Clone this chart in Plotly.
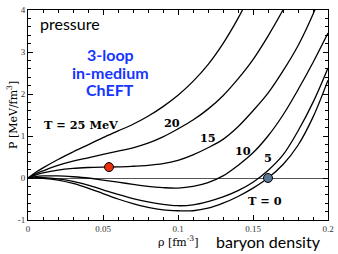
import plotly.graph_objects as go

rho = [0, 0.005, 0.01, 0.02, 0.03, 0.04, 0.05, 0.06, 0.07, 0.08, 0.09, 0.10,
       0.11, 0.12, 0.13, 0.14, 0.15, 0.16, 0.17, 0.18, 0.19, 0.20]

p_T25 = [0, 0.13, 0.24, 0.44, 0.62, 0.79, 0.96, 1.12, 1.28, 1.47, 1.70, 1.97,
         2.30, 2.70, 3.20, 3.80, 4.50, None, None, None, None, None]
p_T20 = [0, 0.10, 0.17, 0.30, 0.40, 0.48, 0.56, 0.64, 0.72, 0.83, 0.98, 1.17,
         1.38, 1.64, 1.96, 2.36, 2.82, 3.38, 4.00, 4.70, None, None]
p_T15 = [0, 0.07, 0.12, 0.19, 0.23, 0.25, 0.26, 0.265, 0.28, 0.30, 0.34, 0.42,
         0.55, 0.72, 0.92, 1.22, 1.60, 2.02, 2.55, 3.15, 3.90, 4.80]
p_T10 = [0, 0.035, 0.05, 0.05, 0.03, 0.0, -0.05, -0.10, -0.15, -0.20, -0.23, -0.24,
         -0.20, -0.11, 0.05, 0.30, 0.60, 1.00, 1.50, 2.10, 2.75, 3.45]
p_T5 = [0, 0.01, 0.01, -0.02, -0.08, -0.17, -0.28, -0.39, -0.49, -0.57, -0.63, -0.66,
        -0.64, -0.56, -0.45, -0.30, -0.10, 0.18, 0.55, 1.12, 1.80, 2.62]
p_T0 = [0, -0.003, -0.01, -0.05, -0.13, -0.24, -0.37, -0.50, -0.61, -0.70, -0.76, -0.78,
        -0.78, -0.72, -0.60, -0.44, -0.24, 0.0, 0.32, 0.78, 1.45, 2.33]

curves = [p_T25, p_T20, p_T15, p_T10, p_T5, p_T0]
curve_labels = ["T = 25 MeV", "20", "15", "10", "5", "T = 0"]
label_x = [0.0353, 0.096, 0.120, 0.1433, 0.160, 0.158]
label_y = [1.26, 1.31, 0.95, 0.64, 0.48, -0.55]

crit_rho, crit_p = [0.054], [0.26]
sat_rho, sat_p = [0.16], [0.0]

x_ticks = [0, 0.05, 0.1, 0.15, 0.2]
x_ticklabels = ["0", "0.05", "0.1", "0.15", "0.2"]
y_ticks = [-1, 0, 1, 2, 3, 4]
y_ticklabels = ["-1", "0", "1", "2", "3", "4"]

fig = go.Figure()
for p in curves:
    fig.add_trace(go.Scatter(x=rho, y=p, mode="lines",
                             line=dict(color="black", width=1.3, shape="spline", smoothing=1.0),
                             connectgaps=False, showlegend=False, hoverinfo="skip"))

fig.add_trace(go.Scatter(x=crit_rho, y=crit_p, mode="markers",
                         marker=dict(size=9, color="#e8300c", line=dict(color="black", width=1)),
                         showlegend=False))
fig.add_trace(go.Scatter(x=sat_rho, y=sat_p, mode="markers",
                         marker=dict(size=9, color="#5b7596", line=dict(color="black", width=1)),
                         showlegend=False))

serif = "DejaVu Serif"
sans = "Lato"
for t, lx, ly in zip(curve_labels, label_x, label_y):
    fig.add_annotation(x=lx, y=ly, text="<b>" + t + "</b>", showarrow=False,
                       xanchor="center", yanchor="middle",
                       font=dict(family=serif, size=11.3, color="black"))

fig.add_annotation(x=0.0067, y=3.69, text="pressure", xanchor="left", yanchor="middle",
                   showarrow=False, font=dict(family=sans, size=16, color="black"))
for txt, yy in zip(["3-loop", "in-medium", "ChEFT"], [2.93, 2.52, 2.10]):
    fig.add_annotation(x=0.0547, y=yy, text="<b>" + txt + "</b>", showarrow=False,
                       xanchor="center", yanchor="middle",
                       font=dict(family=sans, size=16, color="#1636ff"))

fig.add_annotation(xref="paper", yref="paper", x=(178 - 28) / 300, y=(220 - 241) / 210,
                   text="ρ [fm<sup>-3</sup>]", showarrow=False, xanchor="center", yanchor="middle",
                   font=dict(family=serif, size=11, color="black"))
fig.add_annotation(xref="paper", yref="paper", x=(268 - 28) / 300, y=(220 - 241) / 210,
                   text="baryon density", showarrow=False, xanchor="center", yanchor="middle",
                   font=dict(family=sans, size=16, color="black"))
fig.add_annotation(xref="paper", yref="paper", x=(12 - 28) / 300, y=(220 - 115) / 210,
                   text="P [MeV/fm<sup>3</sup>]", textangle=-90, showarrow=False,
                   xanchor="center", yanchor="middle",
                   font=dict(family=serif, size=11, color="black"))

axis_common = dict(ticks="inside", ticklen=5, tickcolor="black", mirror="ticks", showline=True,
                   linecolor="black", linewidth=1, showgrid=False, automargin=False,
                   tickfont=dict(family="Liberation Serif", size=9, color="#333"))
fig.update_xaxes(range=[0, 0.2], tickvals=x_ticks, ticktext=x_ticklabels, zeroline=False,
                 minor=dict(dtick=0.01, ticks="inside", ticklen=3, tickcolor="black", showgrid=False),
                 **axis_common)
fig.update_yaxes(range=[-1, 4], tickvals=y_ticks, ticktext=y_ticklabels,
                 zeroline=True, zerolinecolor="#555", zerolinewidth=1,
                 minor=dict(dtick=0.2, ticks="inside", ticklen=3, tickcolor="black", showgrid=False),
                 **axis_common)

fig.update_layout(template="none", width=338, height=254, margin=dict(l=28, r=10, t=10, b=34),
                  plot_bgcolor="white", paper_bgcolor="white", hovermode=False)
fig.write_html("out.html", config={"displayModeBar": False, "staticPlot": True},
               post_script="document.body.style.margin='0';")
